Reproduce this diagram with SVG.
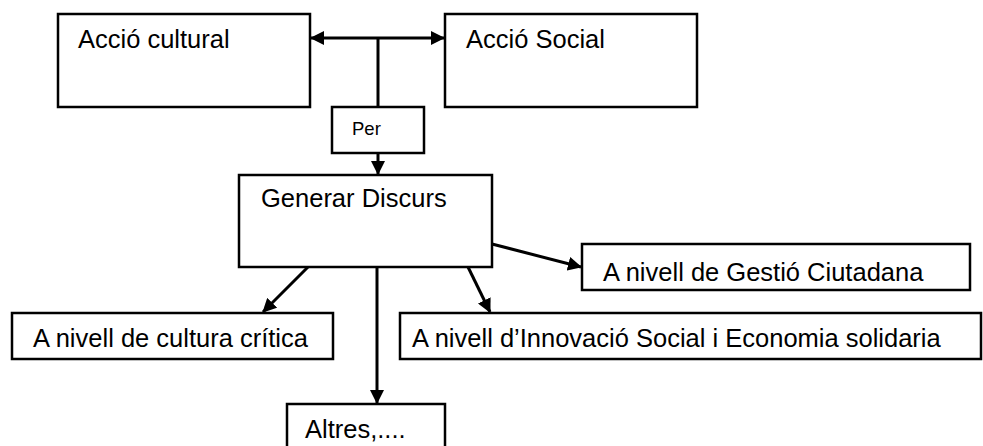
<svg xmlns="http://www.w3.org/2000/svg" width="983" height="446" viewBox="0 0 983 446">
<style>
.box{fill:#fff;stroke:#000;stroke-width:2.5}
.t{font-family:"Liberation Sans",Arial,sans-serif;font-size:25.5px;fill:#000}
.s{font-size:18.5px}
.c{stroke:#000;stroke-width:3;fill:none}
</style>
<defs>
<marker id="ah" viewBox="0 0 14 14" refX="13" refY="7" markerWidth="14" markerHeight="14" markerUnits="userSpaceOnUse" orient="auto-start-reverse">
<path d="M0,0 L14,7 L0,14 Z" fill="#000"/>
</marker>
</defs>
<rect width="983" height="446" fill="#fff"/>
<g id="connectors">
<line class="c" x1="311" y1="38" x2="444" y2="38" marker-start="url(#ah)" marker-end="url(#ah)"/>
<line class="c" x1="378" y1="38" x2="378" y2="107"/>
<line class="c" x1="378" y1="153" x2="378" y2="174" marker-end="url(#ah)"/>
<line class="c" x1="492" y1="244" x2="581" y2="267" marker-end="url(#ah)"/>
<line class="c" x1="308" y1="267" x2="263" y2="312" marker-end="url(#ah)"/>
<line class="c" x1="468" y1="267" x2="490" y2="312" marker-end="url(#ah)"/>
<line class="c" x1="377" y1="265" x2="377" y2="403" marker-end="url(#ah)"/>
</g>
<g id="accio-cultural"><rect class="box" x="58" y="14" width="252" height="93"/><text class="t" x="78" y="48">Acció cultural</text></g>
<g id="accio-social"><rect class="box" x="445" y="14" width="252" height="93"/><text class="t" x="466" y="48">Acció Social</text></g>
<g id="per"><rect class="box" x="332" y="107" width="92" height="46"/><text class="t s" x="352" y="135">Per</text></g>
<g id="generar"><rect class="box" x="239" y="175" width="253" height="92"/><text class="t" x="261" y="207">Generar Discurs</text></g>
<g id="gestio"><rect class="box" x="582" y="244" width="388" height="46"/><text class="t" x="603" y="281">A nivell de Gestió Ciutadana</text></g>
<g id="cultura"><rect class="box" x="12" y="313" width="321" height="46"/><text class="t" x="33" y="347">A nivell de cultura crítica</text></g>
<g id="innovacio"><rect class="box" x="400" y="313" width="581" height="46"/><text class="t" x="412" y="347">A nivell d’Innovació Social i Economia solidaria</text></g>
<g id="altres"><rect class="box" x="287" y="404" width="158" height="60"/><text class="t" x="305" y="438">Altres,....</text></g>
</svg>
